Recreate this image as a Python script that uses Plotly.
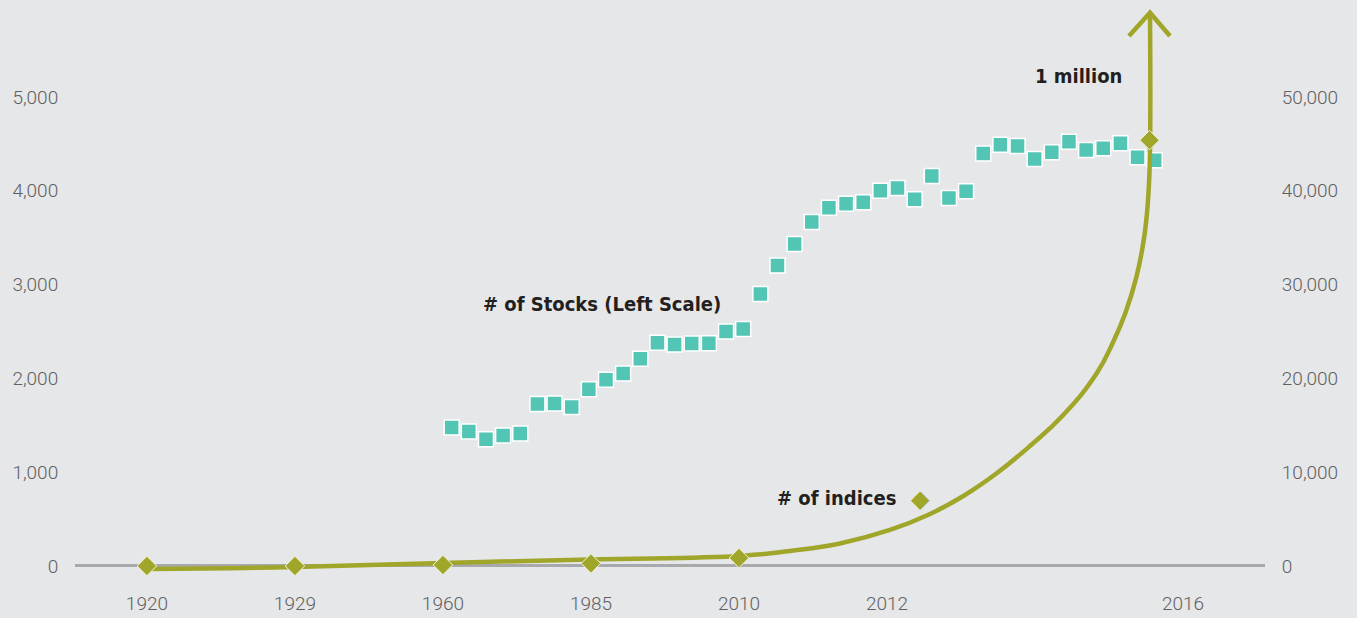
import plotly.graph_objects as go

# ---------------- data ----------------
tick_labels = ["1920", "1929", "1960", "1985", "2010", "2012", "2016"]
tick_positions = [0, 1, 2, 3, 4, 5, 7]

# number of stocks (left scale), yearly
stock_years = list(range(1975, 2017))
stock_counts = [1476, 1433, 1351, 1390, 1412, 1727, 1732, 1696, 1885, 1985,
                2053, 2209, 2380, 2362, 2373, 2376, 2501, 2526, 2899, 3205,
                3432, 3667, 3819, 3862, 3877, 4000, 4029, 3909, 4157, 3923,
                3994, 4399, 4491, 4477, 4339, 4410, 4523, 4435, 4453, 4506,
                4357, 4325]

# number of indices (right scale) - diamond markers
index_pos = [0, 1, 2, 3, 4, 6.774]
index_vals = [0, 0, 107, 267, 853, 45400]

# growth curve for indices (right scale)
curve_pos = [0, 1, 2, 2.993, 4.027, 4.345, 4.682, 5.02, 5.291, 5.516, 5.741,
             5.966, 6.191, 6.417, 6.529, 6.61, 6.685, 6.74, 6.768, 6.777, 6.777]
curve_vals = [-320, -107, 320, 693, 1098, 1599, 2399, 3838, 5544, 7463, 9883,
              12793, 16098, 20544, 23913, 26950, 30800, 35300, 40085, 44350, 58987]

left_ticks = [0, 1000, 2000, 3000, 4000, 5000]
right_ticks = [0, 10000, 20000, 30000, 40000, 50000]

# stocks series sits on the same index axis: first year at 2.059, one year = 0.1159
STOCK_X0, STOCK_STEP = 2.059, 0.11585
stock_x = [STOCK_X0 + (yr - stock_years[0]) * STOCK_STEP for yr in stock_years]

# ---------------- style ----------------
BG = "#e6e7e8"
OLIVE = "#a0a629"
TEAL = "#52c5b5"
TXT = "#231f20"
TICK = "#5f6063"
BOLD_FONT = "Liberation Sans Narrow, DejaVu Sans Condensed, Roboto, sans-serif"
TICK_FONT = dict(family="Roboto, sans-serif", size=19, color=TICK, weight=300)

fig = go.Figure()

fig.add_trace(go.Scatter(
    x=stock_x, y=stock_counts, xaxis="x", yaxis="y",
    mode="markers",
    marker=dict(symbol="square", size=15, color=TEAL,
                line=dict(color="white", width=1.5)),
    showlegend=False, hoverinfo="skip"))

fig.add_trace(go.Scatter(
    x=curve_pos, y=curve_vals, xaxis="x", yaxis="y2",
    mode="lines", line=dict(color=OLIVE, width=4.5, shape="spline", smoothing=1.3),
    showlegend=False, hoverinfo="skip"))

# arrow head (open chevron) at the end of the curve
tip_x, tip_y = curve_pos[-1], curve_vals[-1]
fig.add_trace(go.Scatter(
    x=[tip_x - 0.142, tip_x, tip_x + 0.135], y=[tip_y - 2480, tip_y, tip_y - 2480],
    xaxis="x", yaxis="y2", mode="lines",
    line=dict(color=OLIVE, width=4.5), showlegend=False, hoverinfo="skip"))

fig.add_trace(go.Scatter(
    x=index_pos, y=index_vals, xaxis="x", yaxis="y2",
    mode="markers",
    marker=dict(symbol="diamond", size=15, color=OLIVE,
                line=dict(color="#f4f4e0", width=1)),
    showlegend=False, hoverinfo="skip"))

L, R, T, B = 75, 92, 5, 28
PW, PH = 1357 - L - R, 618 - T - B
fig.update_layout(
    width=1357, height=618,
    margin=dict(l=L, r=R, t=T, b=B),
    paper_bgcolor=BG, plot_bgcolor=BG,
    showlegend=False,
    xaxis=dict(range=[-0.486, 7.554], tickvals=tick_positions, ticktext=tick_labels,
               showgrid=False, zeroline=False, showline=False, automargin=False,
               ticks="", tickfont=TICK_FONT),
    yaxis=dict(range=[-256, 5981], tickvals=left_ticks,
               tickformat=",d", showgrid=False, automargin=False,
               zeroline=True, zerolinecolor="#a7a9ac", zerolinewidth=3,
               showline=False, ticks="outside", ticklen=12,
               tickcolor="rgba(0,0,0,0)", tickfont=TICK_FONT),
    yaxis2=dict(range=[-2560, 59810], tickvals=right_ticks, tickformat=",d",
                overlaying="y", side="right", anchor="x", showgrid=False,
                automargin=False,
                zeroline=False, showline=False, ticks="outside", ticklen=12,
                tickcolor="rgba(0,0,0,0)", tickfont=TICK_FONT),
    annotations=[
        dict(text="# of Stocks (Left Scale)", xref="paper", yref="paper",
             x=(602 - L) / PW, y=(618 - B - 304) / PH, showarrow=False,
             font=dict(family=BOLD_FONT, size=20, color=TXT, weight="bold")),
        dict(text="1 million", xref="paper", yref="paper",
             x=(1124 - L) / PW, y=(618 - B - 76) / PH,
             xanchor="right", yanchor="middle", showarrow=False,
             font=dict(family=BOLD_FONT, size=20, color=TXT, weight="bold")),
        dict(text="# of indices", xref="paper", yref="paper",
             x=(898 - L) / PW, y=(618 - B - 498) / PH,
             xanchor="right", yanchor="middle", showarrow=False,
             font=dict(family=BOLD_FONT, size=20, color=TXT, weight="bold")),
        dict(text="◆", xref="paper", yref="paper",
             x=(920 - L) / PW, y=(618 - B - 499) / PH,
             xanchor="center", yanchor="middle", showarrow=False,
             font=dict(family="DejaVu Sans", size=24, color=OLIVE)),
    ],
)

fig.write_html("out.html", config={"displayModeBar": False},
               post_script="document.body.style.margin='0';")
